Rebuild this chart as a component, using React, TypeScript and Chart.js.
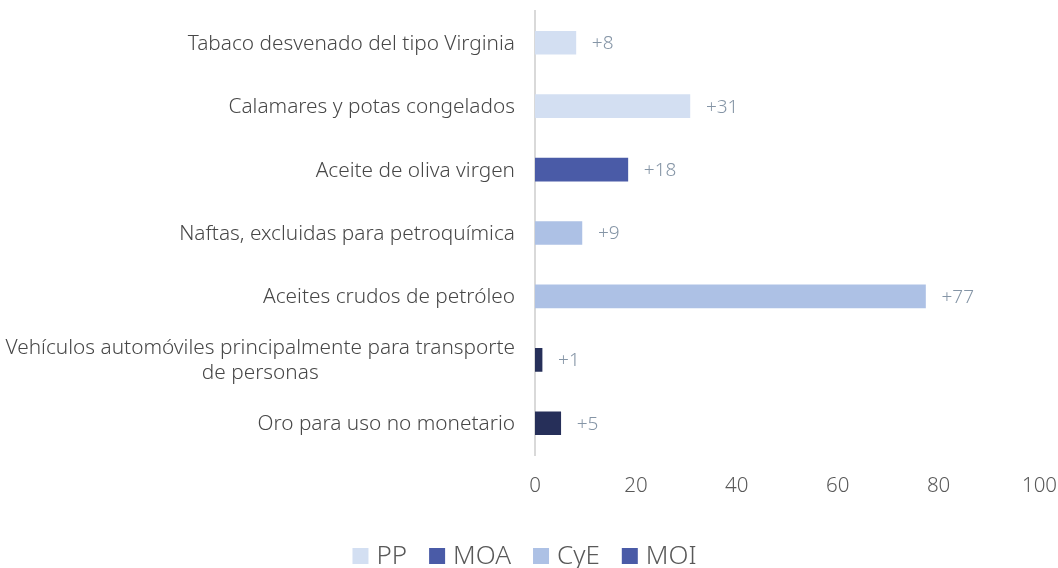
import React, { useEffect, useRef } from "react";
import { Chart, registerables } from "chart.js";

Chart.register(...registerables);

const categories: string[][] = [
  ["Tabaco desvenado del tipo Virginia"],
  ["Calamares y potas congelados"],
  ["Aceite de oliva virgen"],
  ["Naftas, excluidas para petroquímica"],
  ["Aceites crudos de petróleo"],
  ["Vehículos automóviles principalmente para transporte", "de personas"],
  ["Oro para uso no monetario"],
];
const groups = ["PP", "PP", "MOA", "CyE", "CyE", "MOI", "MOI"];
const values = [8.1, 30.7, 18.4, 9.3, 77.4, 1.4, 5.1];
const seriesNames = ["PP", "MOA", "CyE", "MOI"];
const barColors = ["#d3dff2", "#4a5ba7", "#adc1e5", "#262f59"];
const legendColors = ["#d3dff2", "#4a5ba7", "#adc1e5", "#4a5ba7"];
const xTicks = [0, 20, 40, 60, 80, 100];

const FONT = "'Noto Sans', 'Open Sans', sans-serif";

export default function App() {
  const ref = useRef<HTMLCanvasElement | null>(null);

  useEffect(() => {
    if (!ref.current) return;
    const datasets = seriesNames.map((name, si) => ({
      label: name,
      data: values.map((v, i) => (groups[i] === name ? v : null)),
      backgroundColor: barColors[si],
      borderWidth: 0,
      barThickness: 23,
      grouped: false,
    }));

    const yLabelPlugin = {
      id: "yLabels",
      afterDraw(chart: any) {
        const ctx = chart.ctx;
        const ys = chart.scales.y;
        ctx.save();
        ctx.font = `300 20.8px ${FONT}`;
        ctx.fillStyle = "#474747";
        ctx.textBaseline = "middle";
        const right = chart.chartArea.left - 20;
        const lh = 25;
        categories.forEach((lines, i) => {
          const y = ys.getPixelForValue(i) + 1;
          const y0 = y - ((lines.length - 1) * lh) / 2;
          if (lines.length === 1) {
            ctx.textAlign = "right";
            ctx.fillText(lines[0], right, y0);
          } else {
            const w = Math.max(...lines.map((l) => ctx.measureText(l).width));
            const cx = right - w / 2;
            ctx.textAlign = "center";
            lines.forEach((l, k) => ctx.fillText(l, cx, y0 + k * lh));
          }
        });
        ctx.restore();
      },
    };

    const valueLabelPlugin = {
      id: "valueLabels",
      afterDatasetsDraw(chart: any) {
        const ctx = chart.ctx;
        ctx.save();
        ctx.font = `300 19px ${FONT}`;
        ctx.fillStyle = "#8595a6";
        ctx.textAlign = "left";
        ctx.textBaseline = "middle";
        chart.data.datasets.forEach((ds: any, di: number) => {
          const meta = chart.getDatasetMeta(di);
          meta.data.forEach((el: any, i: number) => {
            const v = ds.data[i];
            if (v === null || v === undefined) return;
            ctx.fillText("+" + Math.round(v), el.x + 16, el.y + 1);
          });
        });
        ctx.restore();
      },
    };

    const legendPlugin = {
      id: "customLegend",
      afterDraw(chart: any) {
        const ctx = chart.ctx;
        ctx.save();
        ctx.font = `300 26px ${FONT}`;
        ctx.textBaseline = "middle";
        ctx.textAlign = "left";
        const box = 16;
        const gap = 8;
        const spacing = 22;
        const widths = seriesNames.map((n) => box + gap + ctx.measureText(n).width);
        const total = widths.reduce((a, b) => a + b, 0) + spacing * (seriesNames.length - 1);
        let x = chart.width / 2 - total / 2 - 4.5;
        const cy = 556;
        seriesNames.forEach((n, i) => {
          ctx.fillStyle = legendColors[i];
          ctx.fillRect(x, cy - box / 2, box, box);
          ctx.fillStyle = "#595959";
          ctx.fillText(n, x + box + gap, cy + 1);
          x += widths[i] + spacing;
        });
        ctx.restore();
      },
    };

    const chart = new Chart(ref.current, {
      type: "bar",
      data: { labels: categories.map((c) => c.join(" ")), datasets },
      options: {
        indexAxis: "y",
        animation: false,
        responsive: true,
        maintainAspectRatio: false,
        layout: { padding: { top: 11, right: 0, left: 0, bottom: 63 } },
        scales: {
          y: {
            ticks: { display: false },
            grid: { display: false, drawTicks: false },
            border: { color: "#d9d9d9", width: 2 },
            afterFit(scale: any) {
              scale.width = 535;
            },
          },
          x: {
            min: 0,
            max: 100,
            afterBuildTicks(scale: any) {
              scale.ticks = xTicks.map((v) => ({ value: v }));
            },
            afterFit(scale: any) {
              scale.height = 50;
              scale.paddingRight = 18.5;
              scale.paddingLeft = 0;
            },
            grid: { display: false, drawTicks: false },
            border: { display: false },
            ticks: {
              color: "#595959",
              font: { family: FONT, size: 20.5, weight: "300" as any },
              padding: 19,
              maxRotation: 0,
            },
          },
        },
        plugins: {
          tooltip: { enabled: false },
          legend: { display: false },
        },
      },
      plugins: [yLabelPlugin, valueLabelPlugin, legendPlugin],
    });
    return () => chart.destroy();
  }, []);

  return (
    <div style={{ position: "fixed", left: 0, top: 0, width: 1058, height: 568, background: "#fff" }}>
      <canvas ref={ref} />
    </div>
  );
}
